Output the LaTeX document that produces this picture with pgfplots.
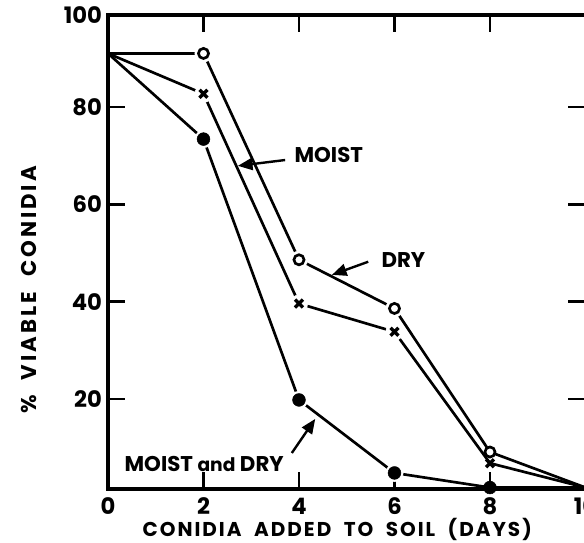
\documentclass[border=0pt]{standalone}
\usepackage{pgfplots}
\pgfplotsset{compat=1.18}
\usepackage{fontspec}
\setmainfont{Poppins}
\usetikzlibrary{arrows.meta}
\begin{document}
\begin{tikzpicture}
\path[use as bounding box] (0,0) rectangle (438pt,406.5pt);
\clip (0,0) rectangle (438pt,406.5pt);
\begin{axis}[
  at={(81pt,39.75pt)}, anchor=south west,
  scale only axis, width=358.1pt, height=355.5pt,
  xmin=0, xmax=10, ymin=1.5, ymax=98.9,
  clip=false,
  xtick={0,2,4,6,8,10},
  ytick={20,40,60,80,98.9}, yticklabels={20,40,60,80,100},
  tick align=inside, major tick length=13pt,
  axis line style={line width=2.4pt},
  every tick/.style={line width=2.2pt, black},
  /pgf/number format/assume math mode=true,
  ticklabel style={font=\bfseries\fontsize{17}{17}\selectfont},
  xticklabel style={yshift=-3pt},
  yticklabel style={xshift=-1pt},
  xlabel={CONIDIA\ \ ADDED\ \ TO\ \ SOIL\ \ (DAYS)},
  ylabel={\%\ \ VIABLE\ \ CONIDIA},
  xlabel style={font=\bfseries\fontsize{15}{15}\selectfont\addfontfeatures{LetterSpace=10},
    inner sep=0pt, at={(axis description cs:0.48,-0.086)}, anchor=center},
  ylabel style={font=\bfseries\fontsize{16}{16}\selectfont\addfontfeatures{LetterSpace=14},
    at={(axis description cs:-0.165,0.42)}, anchor=center},
]
% lines
\addplot[black, line width=2pt] coordinates {(0,91) (2,91) (4,48.6) (6,38.6) (8,9.1) (10,1.8)};
\addplot[black, line width=2pt] coordinates {(0,91) (2,82.7) (4,39.6) (6,33.8) (8,6.8) (10,1.8)};
\addplot[black, line width=2pt] coordinates {(0,91) (2,73.4) (4,19.8) (6,4.8) (8,1.8) (10,1.8)};
% white halos
\addplot[only marks, mark=*, mark size=6.5pt, draw=white, fill=white] coordinates {(2,91) (4,48.6) (6,38.6)};
\addplot[only marks, mark=*, mark size=6.5pt, draw=white, fill=white] coordinates {(2,82.7) (4,39.6) (6,33.8)};
\addplot[only marks, mark=*, mark size=6.5pt, draw=white, fill=white] coordinates {(2,73.4) (4,19.8) (6,4.8)};
% markers
\addplot[only marks, mark=*, mark size=3.8pt, draw=black, fill=white, line width=2pt] coordinates {(2,91) (4,48.6) (6,38.6) (8,9.1)};
\addplot[only marks, mark=x, mark size=4.2pt, draw=black, line width=2.5pt] coordinates {(2,82.7) (4,39.6) (6,33.8) (8,6.8)};
\addplot[only marks, mark=*, mark size=4.8pt, draw=black, fill=black] coordinates {(2,73.4) (4,19.8) (6,4.8) (8,1.8)};
% annotations
\node[anchor=west, font=\bfseries\fontsize{16}{16}\selectfont] at (axis cs:3.81,70.1) {MOIST};
\draw[line width=1.8pt, -{Triangle[length=11pt,width=9pt]}] (axis cs:3.71,69.1) -- (axis cs:2.72,67.9);
\node[anchor=west, font=\bfseries\fontsize{16}{16}\selectfont] at (axis cs:5.63,48.6) {DRY};
\draw[line width=1.8pt, -{Triangle[length=11pt,width=9pt]}] (axis cs:5.45,48.2) -- (axis cs:4.69,45.5);
\node[anchor=west, font=\bfseries\fontsize{16}{16}\selectfont] at (axis cs:0.25,6.6) {MOIST {\fontsize{14}{14}\selectfont and} DRY};
\draw[line width=1.8pt, -{Triangle[length=11pt,width=9pt]}] (axis cs:3.85,8.9) -- (axis cs:4.34,15.9);
\end{axis}
\end{tikzpicture}
\end{document}
